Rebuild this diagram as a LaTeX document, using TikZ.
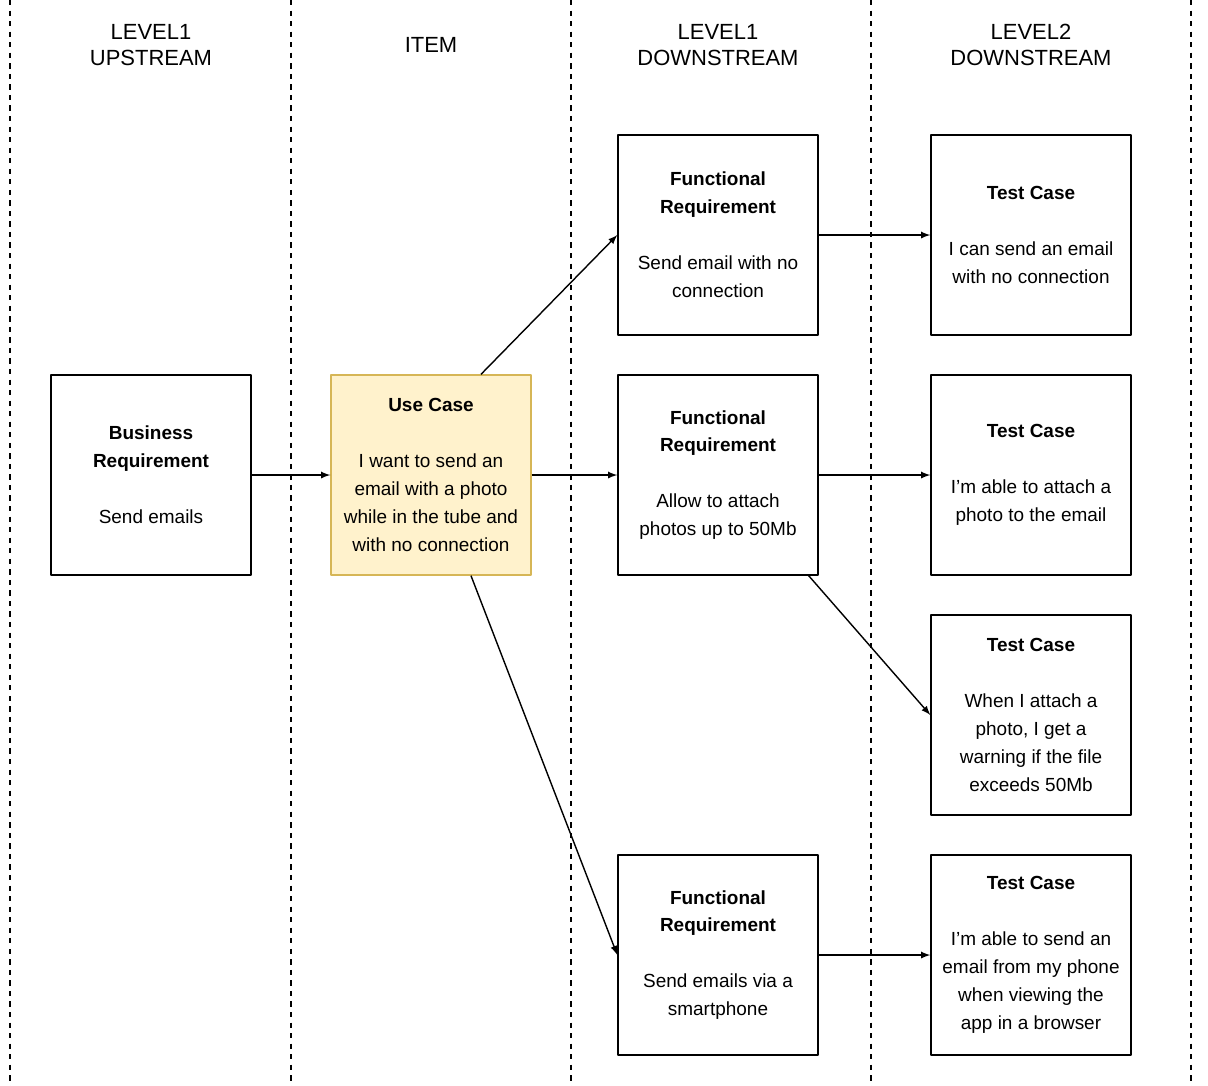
\documentclass[tikz,border=0pt]{standalone}
\usepackage{fontspec}
\setmainfont{Liberation Sans}
\definecolor{ucfill}{HTML}{FFF2CC}
\definecolor{ucdraw}{HTML}{D6B656}
\tikzset{
  box/.style={draw,line width=0.8pt,minimum width=4cm,minimum height=4cm,align=center,
    font=\fontsize{10.8}{15.9}\selectfont,inner sep=0pt},
  head/.style={align=center,font=\fontsize{12.5}{14.5}\selectfont},
  lane/.style={dashed,line width=0.7pt}
}
\begin{document}
\begin{tikzpicture}[x=0.02cm,y=-0.02cm,line join=round,>=latex]
\useasboundingbox (0,0) rectangle (1208,1086);
\foreach \x in {10,291,571,871,1191}
  \draw[lane](\x,0)--(\x,1086);

\node[head] (hUp) at (151,45) {LEVEL1\\UPSTREAM};
\node[head] (hItem) at (431,45) {ITEM};
\node[head] (hDown1) at (718,45) {LEVEL1\\DOWNSTREAM};
\node[head] (hDown2) at (1031,45) {LEVEL2\\DOWNSTREAM};

\node[box] (bus) at (151,475) {\textbf{Business}\\\textbf{Requirement}\\[15.9pt]Send emails};
\node[box,fill=ucfill,draw=ucdraw] (uc) at (431,475) {\textbf{Use Case}\\[15.9pt]I want to send an\\email with a photo\\while in the tube and\\with no connection};
\node[box] (fr1) at (718,235) {\textbf{Functional}\\\textbf{Requirement}\\[15.9pt]Send email with no\\connection};
\node[box] (fr2) at (718,475) {\textbf{Functional}\\\textbf{Requirement}\\[15.9pt]Allow to attach\\photos up to 50Mb};
\node[box] (fr3) at (718,955) {\textbf{Functional}\\\textbf{Requirement}\\[15.9pt]Send emails via a\\smartphone};
\node[box] (tc1) at (1031,235) {\textbf{Test Case}\\[15.9pt]I can send an email\\with no connection};
\node[box] (tc2) at (1031,475) {\textbf{Test Case}\\[15.9pt]I'm able to attach a\\photo to the email};
\node[box] (tc3) at (1031,715) {\textbf{Test Case}\\[15.9pt]When I attach a\\photo, I get a\\warning if the file\\exceeds 50Mb};
\node[box] (tc4) at (1031,955) {\textbf{Test Case}\\[15.9pt]I'm able to send an\\email from my phone\\when viewing the\\app in a browser};

\draw[->,line width=0.8pt](bus)--(uc);
\draw[->,line width=0.8pt](uc)--(fr2);
\draw[->,line width=0.8pt]([xshift=1cm]uc.north)--(fr1.west);
\draw[->,line width=0.8pt]([xshift=0.8cm]uc.south)--(fr3.west);
\draw[->,line width=0.8pt](fr1)--(tc1);
\draw[->,line width=0.8pt](fr2)--(tc2);
\draw[->,line width=0.8pt]([xshift=-0.2cm]fr2.south east)--(tc3.west);
\draw[->,line width=0.8pt](fr3)--(tc4);
\end{tikzpicture}
\end{document}
